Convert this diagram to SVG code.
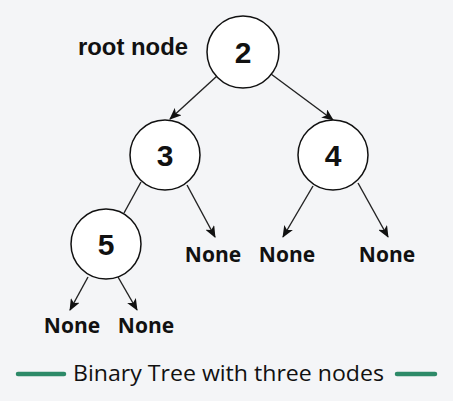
<svg xmlns="http://www.w3.org/2000/svg" width="453" height="401" viewBox="0 0 453 401">
<style>
.node circle{fill:#fff;stroke:#111;stroke-width:1.5}
.node text{font-family:"Liberation Sans",Arial,sans-serif;font-weight:bold;font-size:30px;fill:#111;text-anchor:middle}
.lbl{font-family:"Open Sans","Liberation Sans",sans-serif;font-weight:bold;font-size:21px;fill:#111;text-anchor:middle}
.edge{stroke:#222;stroke-width:1.4;fill:none}
</style>
<defs>
<marker id="ah" viewBox="0 0 12 10" refX="11" refY="5" markerWidth="12" markerHeight="10" markerUnits="userSpaceOnUse" orient="auto">
<path d="M0,0 L12,5 L0,10 L3,5 Z" fill="#111"/>
</marker>
</defs>
<rect width="453" height="401" fill="#f4f5f7"/>
<text x="78" y="55" font-family="'Liberation Sans',Arial,sans-serif" font-weight="bold" font-size="23.5" fill="#111" textLength="110" lengthAdjust="spacingAndGlyphs">root node</text>
<g id="connectors">
<line class="edge" x1="217" y1="76" x2="170" y2="119" marker-end="url(#ah)"/>
<line class="edge" x1="271" y1="74" x2="333" y2="120" marker-end="url(#ah)"/>
<line class="edge" x1="141" y1="182" x2="124" y2="213"/>
<line class="edge" x1="187" y1="185" x2="215" y2="237" marker-end="url(#ah)"/>
<line class="edge" x1="313" y1="186" x2="283" y2="237" marker-end="url(#ah)"/>
<line class="edge" x1="358" y1="183" x2="388" y2="237" marker-end="url(#ah)"/>
<line class="edge" x1="88" y1="277" x2="70" y2="310" marker-end="url(#ah)"/>
<line class="edge" x1="118" y1="277" x2="137" y2="310" marker-end="url(#ah)"/>
</g>
<g id="node2" class="node"><circle cx="243" cy="52" r="36"/><text x="243" y="63">2</text></g>
<g id="node3" class="node"><circle cx="165" cy="155" r="35"/><text x="165" y="166">3</text></g>
<g id="node4" class="node"><circle cx="333" cy="155" r="35"/><text x="333" y="166">4</text></g>
<g id="node5" class="node"><circle cx="106" cy="244" r="35"/><text x="106" y="255">5</text></g>
<g id="none1"><text class="lbl" x="213" y="262">None</text></g>
<g id="none2"><text class="lbl" x="287" y="262">None</text></g>
<g id="none3"><text class="lbl" x="387" y="262">None</text></g>
<g id="none4"><text class="lbl" x="72" y="333">None</text></g>
<g id="none5"><text class="lbl" x="146" y="333">None</text></g>
<g id="caption">
<line x1="18" y1="374" x2="64" y2="374" stroke="#2d8a68" stroke-width="4.5" stroke-linecap="round"/>
<line x1="397" y1="374" x2="435" y2="374" stroke="#2d8a68" stroke-width="4.5" stroke-linecap="round"/>
<text x="73" y="381" font-family="'Open Sans','Liberation Sans',sans-serif" font-size="22.5" fill="#111" textLength="311" lengthAdjust="spacingAndGlyphs">Binary Tree with three nodes</text>
</g>
</svg>
